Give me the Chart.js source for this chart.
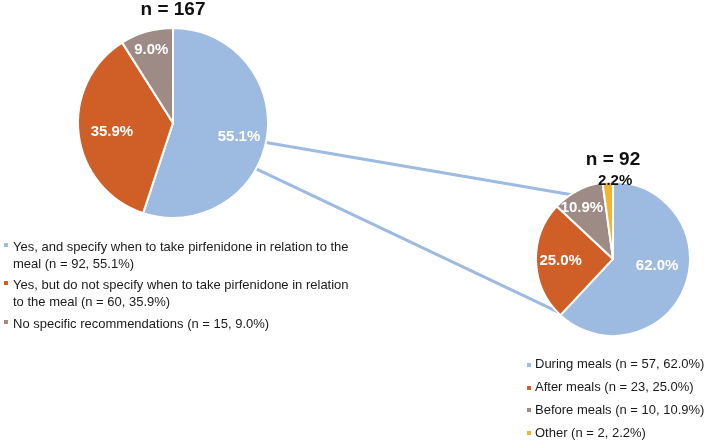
<!DOCTYPE html>
<html>
<head>
<meta charset="utf-8">
<script src="https://cdn.jsdelivr.net/npm/chart.js@4.4.1/dist/chart.umd.min.js"></script>
<style>
  html, body { margin: 0; padding: 0; background: #fff; }
  #page { position: relative; width: 708px; height: 446px; overflow: hidden; font-family: "Liberation Sans", Arial, sans-serif; color: #1a1a1a; }
  #links { position: absolute; left: 0; top: 0; z-index: 0; }
  .pieBox { position: absolute; z-index: 1; }
  .legend { position: absolute; z-index: 2; font-size: 13px; }
  .legend .item { position: relative; }
  .legend .mark { position: absolute; width: 4px; height: 4px; }
  #mainLegend { left: 13px; top: 237.5px; width: 342px; line-height: 17px; }
  #mainLegend .item { margin-bottom: 4.5px; }
  #mainLegend .mark { left: -9px; top: 5px; }
  #subLegend { left: 535px; top: 353.4px; width: 175px; line-height: 22.7px; white-space: nowrap; }
  #subLegend .mark { left: -8px; top: 9.5px; }
</style>
</head>
<body>
<div id="page">
  <canvas id="links" width="708" height="446"></canvas>
  <div class="pieBox" style="left:0px; top:-2px;"><canvas id="mainPie" width="346" height="222"></canvas></div>
  <div class="pieBox" style="left:513px; top:148.3px;"><canvas id="subPie" width="200" height="191"></canvas></div>
  <div class="legend" id="mainLegend"></div>
  <div class="legend" id="subLegend"></div>
</div>
<script>
// pie 1: recommendations given (n = 167)
const mainLabels = [
  'Yes, and specify when to take pirfenidone in relation to the meal',
  'Yes, but do not specify when to take pirfenidone in relation to the meal',
  'No specific recommendations'
];
const mainCounts = [92, 60, 15];
const mainPct = [55.1, 35.9, 9.0];
const mainTotal = 167;

// pie 2: breakdown of the first slice (n = 92)
const subLabels = ['During meals', 'After meals', 'Before meals', 'Other'];
const subCounts = [57, 23, 10, 2];
const subPct = [62.0, 25.0, 10.9, 2.2];
const subTotal = 92;

const BLUE = '#9dbae1', ORANGE = '#cf5f27', GREY = '#9e8b85', YELLOW = '#f0b430';
const mainColors = [BLUE, ORANGE, GREY];
const subColors = [BLUE, ORANGE, GREY, YELLOW];

// percent labels drawn on top of the slices
const pctLabels = {
  id: 'pctLabels',
  afterDraw(chart, args, opts) {
    const ctx = chart.ctx;
    const meta = chart.getDatasetMeta(0);
    ctx.save();
    ctx.font = 'bold 15px "Liberation Sans", Arial, sans-serif';
    ctx.textAlign = 'center';
    ctx.textBaseline = 'middle';
    meta.data.forEach((arc, i) => {
      const mid = (arc.startAngle + arc.endAngle) / 2 + (opts.shift[i] || 0) * Math.PI / 180;
      const r = arc.outerRadius * opts.radii[i];
      ctx.fillStyle = opts.colors[i];
      ctx.fillText(opts.texts[i], arc.x + Math.cos(mid) * r, arc.y + Math.sin(mid) * r);
    });
    ctx.restore();
  }
};

function pieConfig(labels, counts, pct, colors, total, radius, labelOpts, padBottom) {
  return {
    type: 'pie',
    data: {
      labels: labels,
      datasets: [{
        data: counts,
        backgroundColor: colors,
        borderColor: '#ffffff',
        borderWidth: 2,
        radius: radius
      }]
    },
    options: {
      responsive: false,
      animation: false,
      layout: { padding: 0 },
      plugins: {
        legend: { display: false },
        tooltip: { enabled: false },
        title: {
          display: true,
          text: 'n = ' + total,
          color: '#111',
          font: { family: '"Liberation Sans", Arial, sans-serif', size: 19, weight: 'bold' },
          padding: { top: 0, bottom: padBottom }
        },
        pctLabels: Object.assign({ texts: pct.map(v => v.toFixed(1) + '%') }, labelOpts)
      }
    },
    plugins: [pctLabels]
  };
}

const mainChart = new Chart(document.getElementById('mainPie'),
  pieConfig(mainLabels, mainCounts, mainPct, mainColors, mainTotal, 95, {
    radii: [0.71, 0.65, 0.8],
    shift: [2.6, -1.5, -0.4],
    colors: ['#fff', '#fff', '#fff']
  }, 5));

const subChart = new Chart(document.getElementById('subPie'),
  pieConfig(subLabels, subCounts, subPct, subColors, subTotal, 77, {
    radii: [0.58, 0.68, 0.78, 1.02],
    shift: [-12.6, 0, -3.8, 5.5],
    colors: ['#fff', '#fff', '#fff', '#111']
  }, 8));

// connector lines between the two pies, drawn underneath them
function drawConnectors() {
  const cv = document.getElementById('links');
  const ctx = cv.getContext('2d');
  const pageBox = document.getElementById('page').getBoundingClientRect();
  const centre = (chart) => {
    const arc = chart.getDatasetMeta(0).data[0];
    const box = chart.canvas.getBoundingClientRect();
    return { x: box.left - pageBox.left + arc.x, y: box.top - pageBox.top + arc.y, r: arc.outerRadius };
  };
  const a = centre(mainChart);
  const b = centre(subChart);
  const pt = (c, deg, k) => ({
    x: c.x + Math.cos(deg * Math.PI / 180) * c.r * k,
    y: c.y + Math.sin(deg * Math.PI / 180) * c.r * k
  });
  const links = [[12, -121], [29, 133]];
  ctx.strokeStyle = BLUE;
  ctx.lineWidth = 3;
  links.forEach(([from, to]) => {
    const p = pt(a, from, 0.97);
    const q = pt(b, to, 0.97);
    ctx.beginPath();
    ctx.moveTo(p.x, p.y);
    ctx.lineTo(q.x, q.y);
    ctx.stroke();
  });
}
drawConnectors();

function buildLegend(id, labels, counts, pct, colors) {
  const el = document.getElementById(id);
  labels.forEach((lab, i) => {
    const item = document.createElement('div');
    item.className = 'item';
    const mark = document.createElement('span');
    mark.className = 'mark';
    mark.style.background = colors[i];
    item.appendChild(mark);
    item.appendChild(document.createTextNode(lab + ' (n = ' + counts[i] + ', ' + pct[i].toFixed(1) + '%)'));
    el.appendChild(item);
  });
}
buildLegend('mainLegend', mainLabels, mainCounts, mainPct, mainColors);
buildLegend('subLegend', subLabels, subCounts, subPct, subColors);
</script>
</body>
</html>
